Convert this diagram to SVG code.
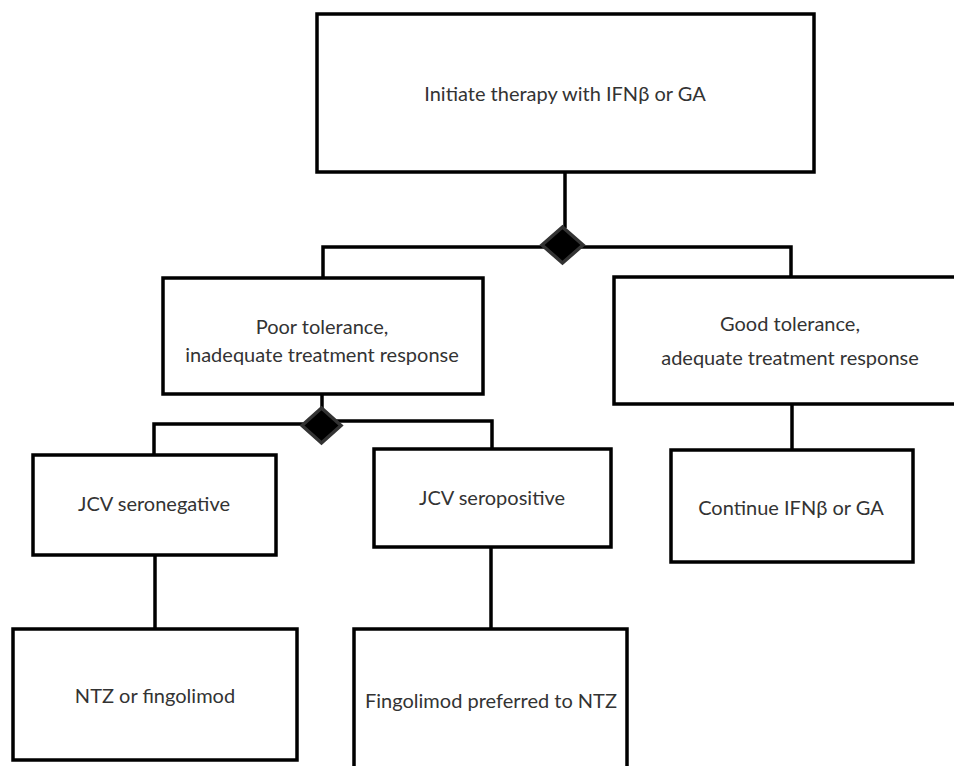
<svg xmlns="http://www.w3.org/2000/svg" width="954" height="766" viewBox="0 0 954 766">
<style>
.box{fill:#fff;stroke:#000;stroke-width:3.5}
.lbl{font-family:Lato,"Liberation Sans",sans-serif;font-size:20px;fill:#333;text-anchor:middle;dominant-baseline:central}
.con{fill:none;stroke:#000;stroke-width:3.5}
.dia{fill:#000;stroke:#333;stroke-width:3.5;stroke-linejoin:miter}
</style>
<rect width="954" height="766" fill="#fff"/>
<g id="connectors">
<path class="con" d="M565,172 V228"/>
<path class="con" d="M323,278 V247 H791 V278"/>
<path class="con" d="M322,394 V410"/>
<path class="con" d="M154,455 V424 H310"/>
<path class="con" d="M334,421 H492 V449"/>
<path class="con" d="M792,404 V450"/>
<path class="con" d="M155,555 V629"/>
<path class="con" d="M491,547 V629"/>
<polygon class="dia" points="562.5,227 583,245 562.5,263 542,245"/>
<polygon class="dia" points="321.5,408 341,425.5 321.5,443 302,425.5"/>
</g>
<g id="n1"><rect class="box" x="317" y="14" width="497" height="158"/><text class="lbl" x="565" y="93">Initiate therapy with IFNβ or GA</text></g>
<g id="n2"><rect class="box" x="163" y="278" width="320" height="116"/><text class="lbl" x="322" y="326">Poor tolerance,</text><text class="lbl" x="322" y="354">inadequate treatment response</text></g>
<g id="n3"><rect class="box" x="614" y="277" width="350" height="127"/><text class="lbl" x="790" y="323">Good tolerance,</text><text class="lbl" x="790" y="357">adequate treatment response</text></g>
<g id="n4"><rect class="box" x="33" y="455" width="243" height="100"/><text class="lbl" x="154" y="503">JCV seronegative</text></g>
<g id="n5"><rect class="box" x="374" y="449" width="237" height="98"/><text class="lbl" x="492" y="497">JCV seropositive</text></g>
<g id="n6"><rect class="box" x="671" y="450" width="242" height="112"/><text class="lbl" x="791" y="507">Continue IFNβ or GA</text></g>
<g id="n7"><rect class="box" x="13" y="629" width="284" height="131"/><text class="lbl" x="155" y="695">NTZ or fingolimod</text></g>
<g id="n8"><rect class="box" x="354" y="629" width="273" height="145"/><text class="lbl" x="491" y="700">Fingolimod preferred to NTZ</text></g>
</svg>
